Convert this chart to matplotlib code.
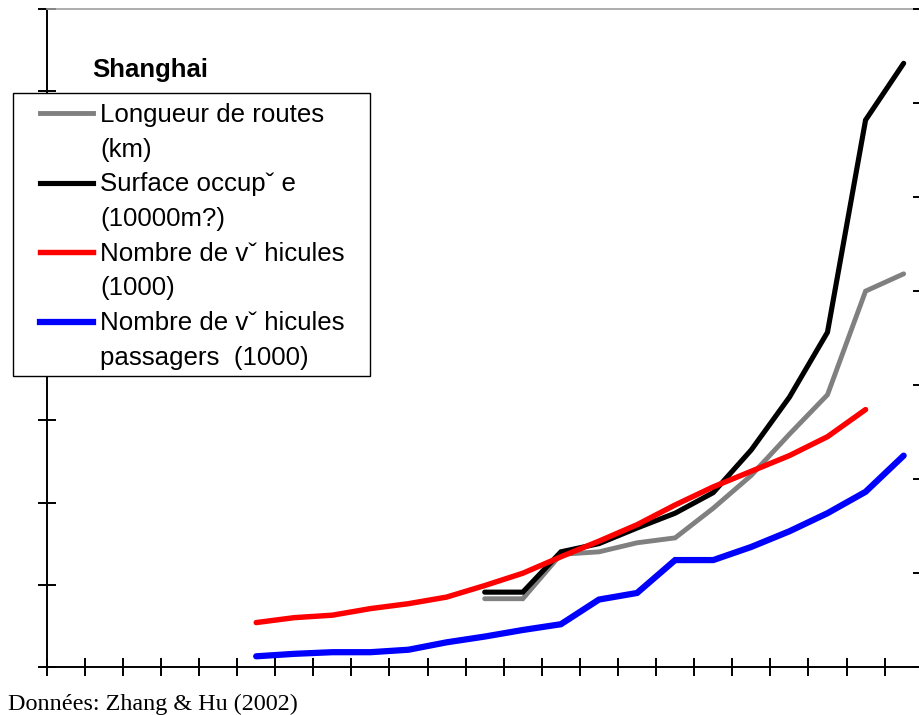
import numpy as np
import matplotlib.pyplot as plt
import matplotlib
from matplotlib.patches import Rectangle
from matplotlib.lines import Line2D

matplotlib.rcParams['font.family'] = ['Liberation Sans', 'DejaVu Sans']

nan = np.nan

# 23 yearly categories (no labels on the original)
years = list(range(1978, 2001))

# values, in left-axis tick units (0..8)
routes = [nan]*11 + [0.83, 0.83, 1.37, 1.40, 1.51, 1.57, 1.93, 2.33, 2.83, 3.31, 4.57, 4.78]
surface = [nan]*11 + [0.91, 0.91, 1.40, 1.50, 1.69, 1.87, 2.12, 2.64, 3.28, 4.07, 6.65, 7.34]
vehicules = [nan]*5 + [0.54, 0.60, 0.63, 0.71, 0.77, 0.85, 0.99, 1.14, 1.34, 1.53, 1.73,
                       1.97, 2.19, 2.38, 2.57, 2.80, 3.13, nan]
passagers = [nan]*5 + [0.13, 0.16, 0.18, 0.18, 0.21, 0.30, 0.37, 0.45, 0.52, 0.82, 0.90,
                       1.30, 1.30, 1.46, 1.65, 1.87, 2.13, 2.57]

labels = [['Longueur de routes', '(km)'],
          ['Surface occupˇ e', '(10000m?)'],
          ['Nombre de vˇ hicules', '(1000)'],
          ['Nombre de vˇ hicules', 'passagers  (1000)']]
colors = ['#808080', 'black', '#ff0000', '#0000ff']
widths = [3.5, 3.7, 3.9, 4.5]

W, H = 920, 715
fig = plt.figure(figsize=(W/100, H/100), dpi=100)
ax = fig.add_axes([46.7/W, 48/H, 876/W, 658/H])

x = np.arange(len(years))
for s, c, lw in zip([routes, surface, vehicules, passagers], colors, widths):
    ax.plot(x, s, color=c, linewidth=lw, solid_capstyle='round', solid_joinstyle='miter')

ax.set_xlim(-0.5, len(years) - 0.5)
ax.set_ylim(0, 8)
ax.set_xticks(np.arange(len(years) + 1) - 0.5)
ax.set_yticks(np.arange(9))
ax.set_xticklabels([])
ax.set_yticklabels([])
ax.tick_params(axis='both', direction='inout', length=13.5, width=1.4, color='black')
ax.tick_params(axis='y', right=False)
ax.tick_params(axis='x', top=False)
for side in ['left', 'bottom']:
    ax.spines[side].set_linewidth(1.4)
ax.spines['top'].set_color('#a0a0a0')
ax.spines['top'].set_linewidth(1.2)
ax.spines['right'].set_visible(False)

ax2 = ax.twinx()
ax2.set_ylim(0, 7)
ax2.set_yticks(np.arange(8))
ax2.set_yticklabels([])
ax2.tick_params(axis='y', direction='inout', length=14.4, width=1.4)
for side in ['left', 'bottom', 'top']:
    ax2.spines[side].set_visible(False)
ax2.spines['right'].set_linewidth(1.4)

def fx(px):
    return px / W

def fy(py):
    return 1 - py / H

# title inside plot
fig.text(fx(92), fy(77.5), 'Shanghai', fontsize=18.5, fontweight='bold', va='baseline')

# legend box drawn by hand (handles sit on the first text line)
fig.patches.append(Rectangle((fx(13), fy(376)), fx(357), 283/H, transform=fig.transFigure,
                             facecolor='white', edgecolor='black', linewidth=1.0, zorder=5))
base = 122
for i, (lab, c, lw) in enumerate(zip(labels, colors, widths)):
    yl = 113 + i*69.6
    fig.lines.append(Line2D([fx(40), fx(93)], [fy(yl), fy(yl)], transform=fig.transFigure,
                            color=c, linewidth=lw, zorder=6))
    for j, t in enumerate(lab):
        fig.text(fx(100), fy(base + (2*i + j)*34.7), t, fontsize=18.6, va='baseline', zorder=6)

fig.text(fx(8), fy(710), 'Données: Zhang & Hu (2002)', fontsize=17.4,
         family='Liberation Serif', va='baseline')

plt.savefig('out.png', dpi=100)
